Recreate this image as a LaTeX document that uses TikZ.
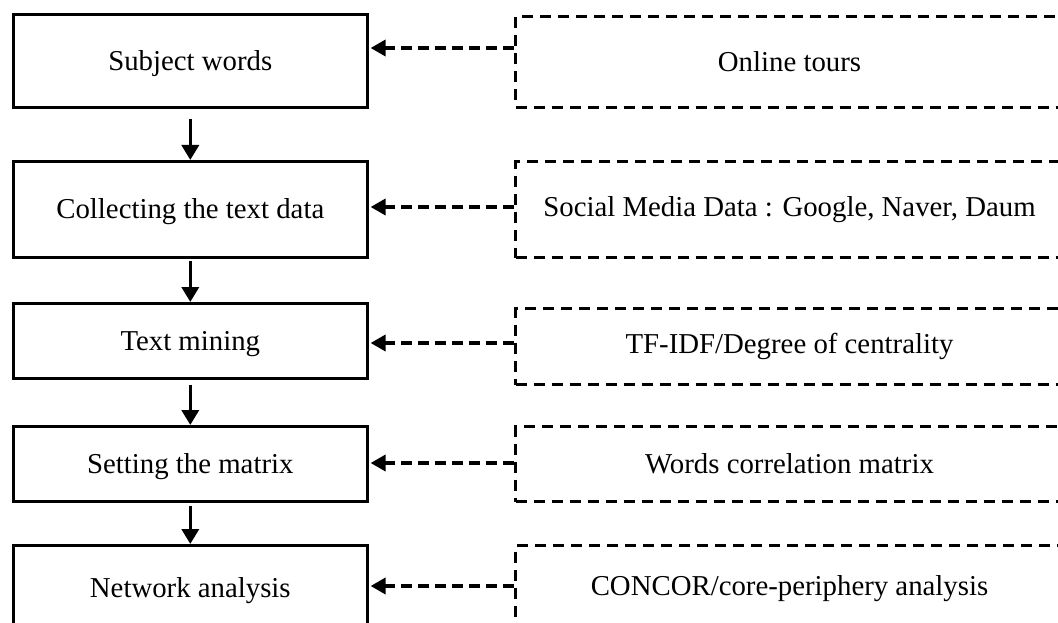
\documentclass[tikz,border=0pt]{standalone}
\usepackage{fontspec}
\setmainfont{Liberation Serif}
\usetikzlibrary{arrows.meta}
\begin{document}
\begin{tikzpicture}[x=1pt,y=-1pt,
  lbox/.style={draw, line width=2.6pt, anchor=north west, inner sep=0pt,
    minimum width=354pt, text height=22pt, text depth=3pt, font=\fontsize{28.8}{34}\selectfont},
  dbox/.style={draw, line width=3pt, dash pattern=on 11pt off 7pt, anchor=north west,
    inner sep=0pt, minimum width=548pt, font=\fontsize{28.8}{34}\selectfont},
  sarrow/.style={line width=3.6pt, -{Triangle[length=15pt,width=17pt]}},
  darrow/.style={line width=3.6pt, dash pattern=on 11pt off 6pt, -{Triangle[length=15pt,width=16pt]}, shorten >=2pt}
]
\useasboundingbox (0,0) rectangle (1058,623);
\clip (0,0) rectangle (1058,623);
% left boxes
\node[lbox, minimum height=93pt] (b1) at (12,13) {Subject words};
\node[lbox, minimum height=96pt] (b2) at (12,160) {Collecting the text data};
\node[lbox, minimum height=75pt] (b3) at (12,302) {Text mining};
\node[lbox, minimum height=75pt] (b4) at (12,425) {Setting the matrix};
\node[lbox, minimum height=86pt] (b5) at (12,544) {Network analysis};
% right dashed boxes
\node[dbox, minimum height=91pt] (d1) at (514,15) {Online tours};
\node[dbox, minimum height=96pt] (d2) at (514,160) {Social Media Data : Google, Naver, Daum};
\node[dbox, minimum height=76pt] (d3) at (514,307) {TF-IDF/Degree of centrality};
\node[dbox, minimum height=75pt] (d4) at (514,425) {Words correlation matrix};
\node[dbox, minimum height=86pt] (d5) at (514,544) {CONCOR/core-periphery analysis};
% solid arrows
\draw[sarrow] ([yshift=-10pt]b1.south) -- (b2.north);
\draw[sarrow] ([yshift=-2pt]b2.south) -- (b3.north);
\draw[sarrow] ([yshift=-5pt]b3.south) -- (b4.north);
\draw[sarrow] ([yshift=-3pt]b4.south) -- (b5.north);
% dashed arrows
\coordinate (s1) at (514,48);
\coordinate (s2) at (514,207);
\coordinate (s3) at (514,343);
\coordinate (s4) at (514,463);
\coordinate (s5) at (514,586);
\draw[darrow] (s1) -- (s1 -| b1.east);
\draw[darrow] (s2) -- (s2 -| b2.east);
\draw[darrow] (s3) -- (s3 -| b3.east);
\draw[darrow] (s4) -- (s4 -| b4.east);
\draw[darrow] (s5) -- (s5 -| b5.east);
\end{tikzpicture}
\end{document}
